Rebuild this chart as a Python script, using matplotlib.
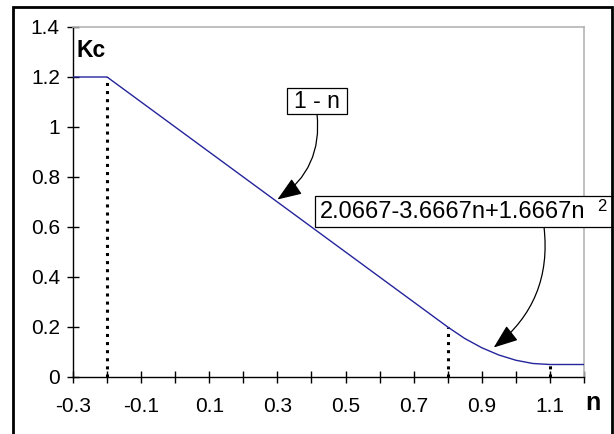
import numpy as np
import matplotlib
matplotlib.use('Agg')
import matplotlib.pyplot as plt
from matplotlib.patches import Rectangle

# Kc against n
n_vals = [-0.3, -0.2, 0.8, 0.85, 0.9, 0.95, 1.0, 1.05, 1.1, 1.2]
kc_vals = [1.2, 1.2, 0.2, 0.154, 0.117, 0.088, 0.067, 0.054, 0.05, 0.05]

# dotted drop lines at the break points
drop_n = [-0.2, 0.8, 1.1]
drop_kc = [1.2, 0.2, 0.05]

x_ticks = np.round(np.arange(-0.3, 1.21, 0.1), 1)
x_labels = ['-0.3', '', '-0.1', '', '0.1', '', '0.3', '', '0.5', '', '0.7', '',
            '0.9', '', '1.1', '']
y_ticks = [0, 0.2, 0.4, 0.6, 0.8, 1.0, 1.2, 1.4]
y_labels = ['0', '0.2', '0.4', '0.6', '0.8', '1', '1.2', '1.4']

plt.rcParams.update({
    'font.family': ['Liberation Sans', 'DejaVu Sans'],
    'font.size': 14,
})

W, H = 614, 434
fig = plt.figure(figsize=(W / 100, H / 100), dpi=100)
ax = fig.add_axes([73 / W, 1 - 377 / H, (584 - 73) / W, (377 - 27) / H])

ax.plot(n_vals, kc_vals, color='#24249c', linewidth=1.0, zorder=3)

for xn, yk in zip(drop_n, drop_kc):
    ax.plot([xn, xn], [0, yk], color='black', linestyle=':', linewidth=2.2,
            zorder=2)

ax.set_xlim(-0.3, 1.2)
ax.set_ylim(0, 1.4)
ax.set_xticks(x_ticks)
ax.set_xticklabels(x_labels)
ax.set_yticks(y_ticks)
ax.set_yticklabels(y_labels)
ax.tick_params(axis='both', direction='inout', length=9, width=1,
               labelsize=15)
ax.tick_params(axis='x', pad=10)
ax.tick_params(axis='y', pad=5)

for side in ['top', 'right']:
    ax.spines[side].set_color('#b4b4b4')
    ax.spines[side].set_linewidth(1.2)
for side in ['left', 'bottom']:
    ax.spines[side].set_color('black')
    ax.spines[side].set_linewidth(1.0)

# axis titles
fig.text(77 / W, 1 - 57 / H, 'Kc', fontsize=16.5, fontweight='bold',
         ha='left', va='baseline')
fig.text(585 / W, 1 - 410 / H, 'n', fontsize=18, fontweight='bold',
         ha='left', va='baseline')

# label boxes
fig.add_artist(Rectangle((287 / W, 1 - 114 / H), 60 / W, 26 / H,
                         transform=fig.transFigure, facecolor='white',
                         edgecolor='black', linewidth=0.9, zorder=5))
fig.text(317 / W, 1 - 101 / H, '1 - n', fontsize=16.5, ha='center',
         va='center', zorder=6)

fig.add_artist(Rectangle((315 / W, 1 - 227 / H), 305 / W, 31 / H,
                         transform=fig.transFigure, facecolor='white',
                         edgecolor='black', linewidth=0.9, zorder=5))
fig.text(320 / W, 1 - 212 / H, '2.0667-3.6667n+1.6667n', fontsize=17,
         ha='left', va='center', zorder=6)
fig.text(597 / W, 1 - 206 / H, '2', fontsize=12, ha='left', va='center',
         zorder=6)

# curved arrows from the boxes to the line
arrow_style = dict(arrowstyle='-|>,head_length=1.0,head_width=0.38',
                   mutation_scale=15, color='black', linewidth=0.9,
                   shrinkA=0, shrinkB=0)
ax.annotate('', xy=(0.30, 0.71), xycoords='data',
            xytext=(317, H - 114), textcoords='figure pixels',
            arrowprops=dict(connectionstyle='arc3,rad=-0.3', **arrow_style))
ax.annotate('', xy=(0.935, 0.118), xycoords='data',
            xytext=(544, H - 227), textcoords='figure pixels',
            arrowprops=dict(connectionstyle='arc3,rad=-0.28', **arrow_style))

# outer frame
fig.add_artist(Rectangle((13 / W, -0.05), (612 - 13) / W, 1.05 - 7 / H,
                         transform=fig.transFigure, fill=False,
                         edgecolor='black', linewidth=2.0, zorder=10))

fig.savefig('out.png', dpi=100)
